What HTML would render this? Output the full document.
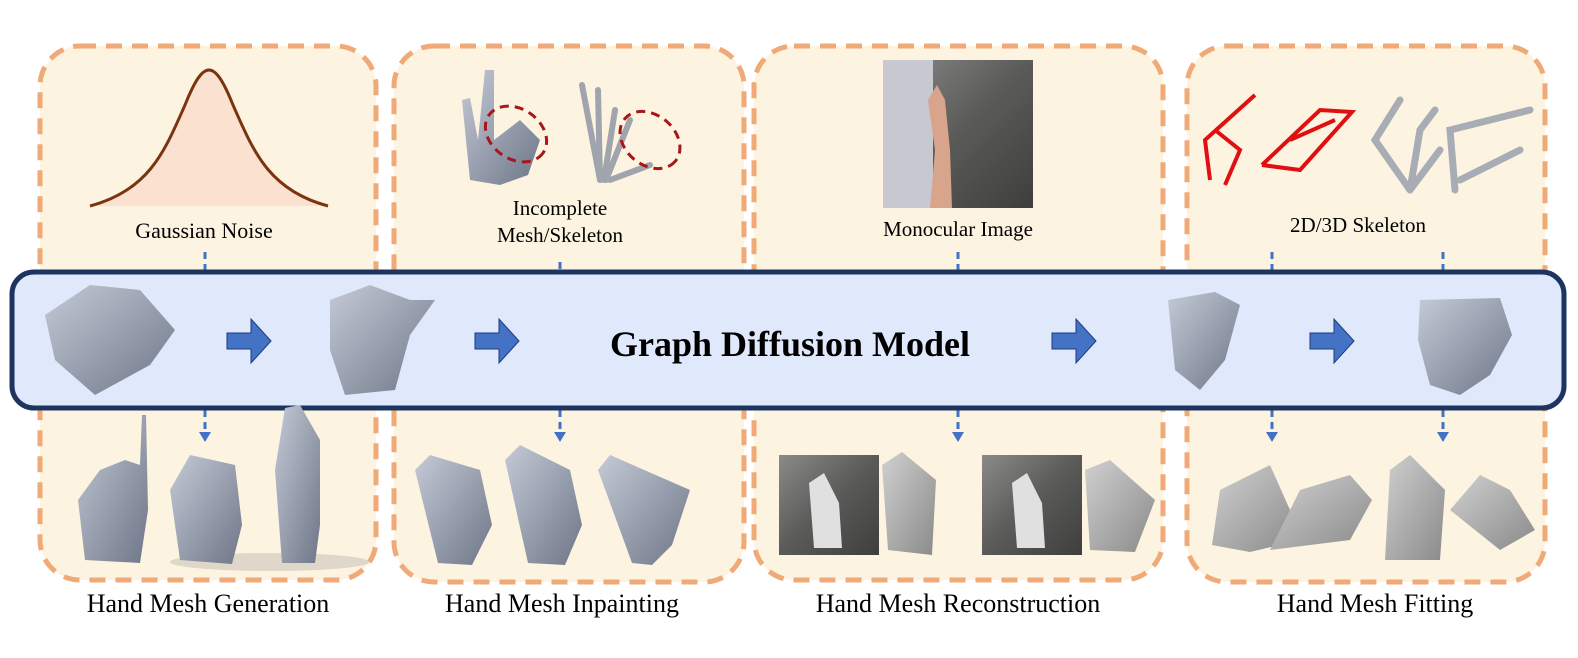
<!DOCTYPE html>
<html><head><meta charset="utf-8"><style>
html,body{margin:0;padding:0;background:#fff;}
svg{display:block;}
text{font-family:"Liberation Serif",serif;fill:#000;}
</style></head><body>
<svg width="1578" height="658" viewBox="0 0 1578 658" xmlns="http://www.w3.org/2000/svg">
<defs>
<linearGradient id="hg" x1="0" y1="0" x2="1" y2="1"><stop offset="0" stop-color="#c4cad6"/><stop offset="1" stop-color="#6e7688"/></linearGradient>
<linearGradient id="sg" x1="0" y1="0" x2="1" y2="1"><stop offset="0" stop-color="#d0d0d0"/><stop offset="1" stop-color="#8a8a8a"/></linearGradient>
<linearGradient id="ph" x1="0" y1="0" x2="1" y2="1"><stop offset="0" stop-color="#8a8a88"/><stop offset="0.5" stop-color="#5a5a58"/><stop offset="1" stop-color="#3e3e3c"/></linearGradient>
</defs>
<g fill="#fdf3e1" stroke="#f0aa78" stroke-width="5" stroke-dasharray="16,10">
<rect x="40" y="46" width="336" height="534" rx="40"/>
<rect x="394" y="46" width="350" height="536" rx="40"/>
<rect x="754" y="46" width="409" height="534" rx="40"/>
<rect x="1187" y="46" width="358" height="536" rx="40"/>
</g>
<path d="M90,206 C150,190 165,150 185,105 C195,80 202,70 209,70 C216,70 223,80 233,105 C253,150 268,190 328,206 Z" fill="#fbe1d0"/>
<path d="M90,206 C150,190 165,150 185,105 C195,80 202,70 209,70 C216,70 223,80 233,105 C253,150 268,190 328,206" fill="none" stroke="#7a3410" stroke-width="3"/>
<text x="204" y="238" font-size="22" text-anchor="middle">Gaussian Noise</text>
<path d="M470,180 L462,100 L470,98 L478,140 L485,70 L494,70 L494,140 L520,120 L540,140 L528,175 L500,185 Z" fill="url(#hg)"/>
<ellipse cx="516" cy="134" rx="33" ry="25" transform="rotate(35 516 134)" fill="none" stroke="#a8161a" stroke-width="3" stroke-dasharray="9,6"/>
<g stroke="#a0a4ac" stroke-width="6" stroke-linecap="round" fill="none"><path d="M600,180 L582,85 M600,180 L598,90 M604,180 L615,110 M606,180 L630,120 M610,180 L650,165"/></g>
<ellipse cx="650" cy="140" rx="33" ry="25" transform="rotate(40 650 140)" fill="none" stroke="#a8161a" stroke-width="3" stroke-dasharray="9,6"/>
<text x="560" y="215" font-size="21" text-anchor="middle">Incomplete</text>
<text x="560" y="242" font-size="21" text-anchor="middle">Mesh/Skeleton</text>
<rect x="883" y="60" width="150" height="148" fill="url(#ph)"/>
<rect x="883" y="60" width="50" height="148" fill="#c8c8d0"/>
<path d="M930,208 L935,150 L928,100 L937,85 L945,100 L950,150 L952,208 Z" fill="#d8a48c"/>
<text x="958" y="236" font-size="21" text-anchor="middle">Monocular Image</text>
<g stroke="#e01010" stroke-width="4" fill="none"><path d="M1210,180 L1205,140 L1255,95 M1225,185 L1240,150 L1215,130 M1262,165 L1320,110 L1352,112 L1300,170 L1262,165 M1290,140 L1335,120"/></g>
<g stroke="#a8acb4" stroke-width="7" stroke-linecap="round" fill="none"><path d="M1410,190 L1375,140 L1400,100 M1410,190 L1420,130 L1435,110 M1410,190 L1440,150 M1455,190 L1450,130 L1530,110 M1460,180 L1520,150"/></g>
<text x="1358" y="232" font-size="21" text-anchor="middle">2D/3D Skeleton</text>
<g stroke="#4472c4" stroke-width="3" stroke-dasharray="7,5"><path d="M205,252 V270 M560,262 V270 M958,252 V270 M1272,252 V270 M1443,252 V270"/>
<path d="M205,410 V432 M560,410 V432 M958,410 V432 M1272,410 V432 M1443,410 V432"/></g>
<g fill="#4472c4"><path d="M199,432 h12 l-6,10 z"/><path d="M554,432 h12 l-6,10 z"/><path d="M952,432 h12 l-6,10 z"/><path d="M1266,432 h12 l-6,10 z"/><path d="M1437,432 h12 l-6,10 z"/></g>
<rect x="12" y="272" width="1552" height="136" rx="22" fill="#dfe9fb" stroke="#1d3461" stroke-width="5"/>
<text x="790" y="356" font-size="36" font-weight="bold" text-anchor="middle">Graph Diffusion Model</text>
<path d="M45,315 L90,285 L140,290 L175,330 L150,365 L95,395 L55,360 Z" fill="url(#hg)"/>
<path d="M330,300 L370,285 L410,300 L435,300 L410,335 L395,390 L345,395 L330,350 Z" fill="url(#hg)"/>
<path d="M1168,300 L1215,292 L1240,305 L1225,360 L1200,390 L1175,370 Z" fill="url(#hg)"/>
<path d="M1420,300 L1500,298 L1512,335 L1490,375 L1460,395 L1430,385 L1418,340 Z" fill="url(#hg)"/>
<g fill="#4472c4" stroke="#1d3a80" stroke-width="1"><path d="M227,333 h24 v-14 l20,22 -20,22 v-14 h-24 z"/><path d="M475,333 h24 v-14 l20,22 -20,22 v-14 h-24 z"/><path d="M1052,333 h24 v-14 l20,22 -20,22 v-14 h-24 z"/><path d="M1310,333 h24 v-14 l20,22 -20,22 v-14 h-24 z"/></g>
<ellipse cx="270" cy="562" rx="100" ry="9" fill="#ccc6ba" opacity="0.6"/>
<g fill="url(#hg)">
<path d="M85,560 L78,500 L100,470 L125,460 L140,465 L142,415 L146,415 L148,510 L140,563 Z"/>
<path d="M180,560 L170,490 L190,455 L235,465 L242,525 L232,564 Z"/>
<path d="M282,563 L275,470 L285,408 L300,405 L320,440 L320,525 L315,563 Z"/>
<path d="M438,563 L415,470 L430,455 L480,470 L492,525 L472,565 Z"/>
<path d="M528,563 L505,460 L520,445 L570,470 L582,525 L565,565 Z"/>
<path d="M632,563 L598,470 L610,455 L690,490 L672,545 L652,565 Z"/>
</g>
<g fill="url(#sg)">
<path d="M1212,545 L1220,490 L1270,465 L1290,510 L1300,540 L1250,552 Z"/>
<path d="M1270,550 L1300,490 L1350,475 L1372,500 L1350,540 Z"/>
<path d="M1385,560 L1390,470 L1410,455 L1445,490 L1440,560 Z"/>
<path d="M1450,510 L1480,475 L1510,490 L1535,530 L1500,550 Z"/>
<path d="M888,550 L882,465 L902,452 L936,480 L932,555 Z"/>
<path d="M1090,550 L1085,470 L1110,460 L1155,500 L1135,552 Z"/>
</g>
<rect x="779" y="455" width="100" height="100" fill="url(#ph)"/>
<rect x="982" y="455" width="100" height="100" fill="url(#ph)"/>
<path d="M814,548 L809,483 L824,473 L839,503 L842,548 Z" fill="#e0e0e0"/>
<path d="M1017,548 L1012,483 L1027,473 L1042,503 L1045,548 Z" fill="#e0e0e0"/>
<text x="208" y="612" font-size="26" text-anchor="middle">Hand Mesh Generation</text>
<text x="562" y="612" font-size="26" text-anchor="middle">Hand Mesh Inpainting</text>
<text x="958" y="612" font-size="26" text-anchor="middle">Hand Mesh Reconstruction</text>
<text x="1375" y="612" font-size="26" text-anchor="middle">Hand Mesh Fitting</text>
</svg>
</body></html>
